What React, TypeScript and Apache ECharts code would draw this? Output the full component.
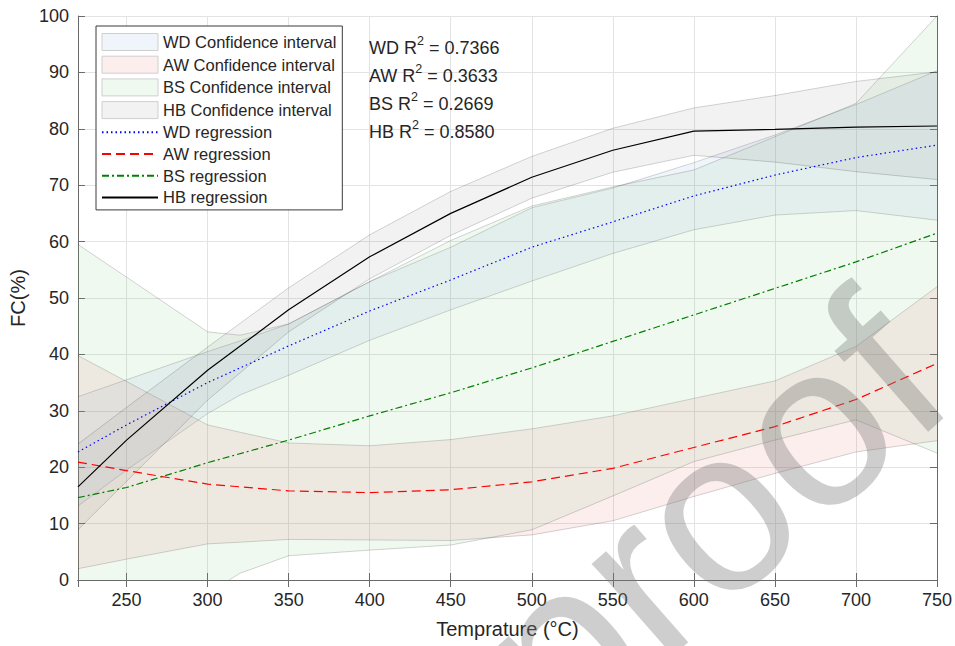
import React, { useEffect, useRef } from 'react';
import * as echarts from 'echarts';

// Regression curves (x in °C, FC in %)
const regX = [220, 250, 300, 350, 400, 450, 500, 550, 600, 650, 700, 750];
const wdRegression = [22.7, 27.5, 35.0, 41.5, 47.7, 53.2, 59.0, 63.5, 68.1, 71.8, 74.9, 77.1];
const awRegression = [20.9, 19.4, 17.0, 15.8, 15.5, 16.0, 17.4, 19.8, 23.5, 27.2, 32.0, 38.4];
const bsRegression = [14.6, 16.4, 20.8, 24.8, 29.1, 33.2, 37.6, 42.3, 47.0, 51.7, 56.4, 61.5];
const hbRegression = [16.5, 24.8, 37.2, 47.9, 57.3, 65.0, 71.4, 76.2, 79.6, 79.9, 80.3, 80.5];

// Confidence intervals
const bandX = [220, 250, 300, 320, 350, 400, 450, 500, 550, 600, 650, 700, 750];
const wdLower = [13.1, 19.5, 29.5, 32.8, 36.3, 42.5, 47.9, 53.0, 57.9, 62.1, 64.7, 65.5, 63.8];
const wdUpper = [32.5, 35.5, 40.5, 42.4, 45.4, 52.9, 59.0, 66.0, 69.5, 74.0, 78.9, 84.3, 90.3];
const awLower = [2.0, 3.7, 6.4, 6.7, 7.2, 7.1, 7.0, 8.0, 10.5, 14.8, 18.9, 22.7, 24.7];
const awUpper = [39.8, 35.2, 27.5, 26.2, 24.3, 23.8, 24.9, 26.8, 29.1, 32.2, 35.3, 41.4, 52.0];
const bsLower = [-30.3, -19.8, -2.4, 1.2, 4.3, 5.3, 6.2, 8.9, 14.9, 21.0, 24.8, 28.4, 22.5];
const bsUpper = [59.5, 53.7, 44.0, 43.4, 45.4, 52.9, 60.2, 66.3, 69.7, 72.7, 78.6, 84.5, 100.0];
const hbLower = [8.9, 17.5, 31.9, 36.7, 44.0, 53.4, 61.1, 67.7, 72.3, 75.3, 74.1, 72.4, 71.0];
const hbUpper = [24.1, 30.6, 41.3, 45.5, 51.8, 61.2, 68.9, 75.1, 80.1, 83.7, 85.9, 88.4, 90.1];

const r2Names = ['WD', 'AW', 'BS', 'HB'];
const r2Values = ['0.7366', '0.3633', '0.2669', '0.8580'];

const FONT = '"Liberation Sans", Arial, Helvetica, sans-serif';
const TEXT = '#262626';
const AXIS = '#6a6a6a';
const EDGE = 'rgba(0,0,0,0.17)';

const fills = {
  wd: 'rgba(105,145,215,0.10)',
  aw: 'rgba(235,85,85,0.10)',
  bs: 'rgba(105,195,105,0.10)',
  hb: 'rgba(125,125,125,0.10)',
};

function bandSeries(name: string, lo: number[], hi: number[], fill: string) {
  const data = bandX.map((x, i) => [x, lo[i], hi[i]]);
  return {
    name,
    type: 'custom',
    data,
    encode: { x: 0, y: [1, 2] },
    itemStyle: { color: fill },
    renderItem: (params: any, api: any) => {
      if (params.dataIndex !== 0) return { type: 'group', children: [] };
      const upper = data.map((d) => api.coord([d[0], d[2]]));
      const lower = data.map((d) => api.coord([d[0], d[1]]));
      const cs = params.coordSys;
      return {
        type: 'group',
        clipPath: { type: 'rect', shape: { x: cs.x, y: cs.y, width: cs.width, height: cs.height } },
        children: [
          { type: 'polygon', shape: { points: upper.concat(lower.slice().reverse()) }, style: { fill, stroke: 'none' } },
          { type: 'polyline', shape: { points: upper }, style: { fill: 'none', stroke: EDGE, lineWidth: 1 } },
          { type: 'polyline', shape: { points: lower }, style: { fill: 'none', stroke: EDGE, lineWidth: 1 } },
        ],
      };
    },
  };
}

function lineSeries(name: string, values: number[], color: string, type: any, width = 1.2) {
  return {
    name,
    type: 'line',
    data: regX.map((x, i) => [x, values[i]]),
    symbol: 'none',
    showSymbol: false,
    itemStyle: { color },
    lineStyle: { color, width, type },
  };
}

const noSymbol = { opacity: 0, borderWidth: 0 };

export default function App() {
  const ref = useRef<HTMLDivElement>(null);
  useEffect(() => {
    if (!ref.current) return;
    const chart = echarts.init(ref.current, undefined, { renderer: 'svg' });
    const xCommon = {
      type: 'value',
      min: 220,
      max: 750,
      splitNumber: 10,
    };
    const yCommon = { type: 'value', min: 0, max: 100, interval: 10 };
    const r2Text = r2Names
      .map((n, i) => `{m|${n} R}{s|2}{m| = ${r2Values[i]}}`)
      .join('\n');
    chart.setOption({
      animation: false,
      backgroundColor: '#ffffff',
      textStyle: { fontFamily: FONT },
      grid: { left: 77, right: 18, top: 16, bottom: 66, containLabel: false },
      xAxis: [
        {
          ...xCommon,
          position: 'bottom',
          name: 'Temprature (°C)',
          nameLocation: 'middle',
          nameGap: 39,
          nameTextStyle: { fontSize: 20, color: TEXT, fontFamily: FONT },
          axisLine: { show: true, lineStyle: { color: AXIS, width: 1 } },
          axisTick: { show: true, inside: true, length: 7, lineStyle: { color: AXIS } },
          axisLabel: {
            show: true,
            showMinLabel: false,
            margin: 11,
            fontSize: 18,
            color: TEXT,
            fontFamily: FONT,
            formatter: (v: number) => (v === 220 ? '' : String(v)),
          },
          splitLine: { show: true, lineStyle: { color: '#e3e3e3', width: 1 } },
        },
        {
          ...xCommon,
          position: 'top',
          axisLine: { show: true, lineStyle: { color: AXIS, width: 1 } },
          axisTick: { show: true, inside: true, length: 7, lineStyle: { color: AXIS } },
          axisLabel: { show: false },
          splitLine: { show: false },
        },
      ],
      yAxis: [
        {
          ...yCommon,
          position: 'left',
          name: 'FC(%)',
          nameLocation: 'middle',
          nameGap: 45,
          nameTextStyle: { fontSize: 20, color: TEXT, fontFamily: FONT },
          axisLine: { show: true, lineStyle: { color: AXIS, width: 1 } },
          axisTick: { show: true, inside: true, length: 7, lineStyle: { color: AXIS } },
          axisLabel: { margin: 9, fontSize: 18, color: TEXT, fontFamily: FONT },
          splitLine: { show: true, lineStyle: { color: '#e3e3e3', width: 1 } },
        },
        {
          ...yCommon,
          position: 'right',
          axisLine: { show: true, lineStyle: { color: AXIS, width: 1 } },
          axisTick: { show: true, inside: true, length: 7, lineStyle: { color: AXIS } },
          axisLabel: { show: false },
          splitLine: { show: false },
        },
      ],
      legend: {
        orient: 'vertical',
        left: 96,
        top: 26,
        itemWidth: 56,
        itemHeight: 17,
        itemGap: 4.7,
        padding: [7, 6, 4, 5],
        backgroundColor: '#ffffff',
        borderColor: '#3a3a3a',
        borderWidth: 1,
        borderRadius: 0,
        selectedMode: false,
        textStyle: { fontSize: 16.5, color: TEXT, fontFamily: FONT },
        data: [
          { name: 'WD Confidence interval', icon: 'rect', itemStyle: { color: fills.wd, borderColor: '#cfcfcf', borderWidth: 1 } },
          { name: 'AW Confidence interval', icon: 'rect', itemStyle: { color: fills.aw, borderColor: '#cfcfcf', borderWidth: 1 } },
          { name: 'BS Confidence interval', icon: 'rect', itemStyle: { color: fills.bs, borderColor: '#cfcfcf', borderWidth: 1 } },
          { name: 'HB Confidence interval', icon: 'rect', itemStyle: { color: fills.hb, borderColor: '#cfcfcf', borderWidth: 1 } },
          { name: 'WD regression', itemStyle: noSymbol },
          { name: 'AW regression', itemStyle: noSymbol },
          { name: 'BS regression', itemStyle: noSymbol },
          { name: 'HB regression', itemStyle: noSymbol },
        ],
      },
      graphic: [
        {
          type: 'text',
          left: 369,
          top: 34,
          z: 10,
          style: {
            text: r2Text,
            fill: TEXT,
            font: `18px ${FONT}`,
            rich: {
              m: { fontSize: 18, lineHeight: 28, fontFamily: FONT, fill: TEXT },
              s: { fontSize: 12.5, lineHeight: 14, verticalAlign: 'top', fontFamily: FONT, fill: TEXT },
            },
          },
        },
        {
          type: 'text',
          x: 587,
          y: 778,
          rotation: 0.72,
          z: 20,
          silent: true,
          style: {
            text: 'proof',
            fill: 'rgba(120,120,120,0.36)',
            font: `232px ${FONT}`,
            textAlign: 'left',
            textVerticalAlign: 'bottom',
          },
        },
      ],
      series: [
        bandSeries('WD Confidence interval', wdLower, wdUpper, fills.wd),
        bandSeries('AW Confidence interval', awLower, awUpper, fills.aw),
        bandSeries('BS Confidence interval', bsLower, bsUpper, fills.bs),
        bandSeries('HB Confidence interval', hbLower, hbUpper, fills.hb),
        lineSeries('WD regression', wdRegression, '#0000ff', [1.5, 3]),
        lineSeries('AW regression', awRegression, '#ff0000', [9, 5]),
        lineSeries('BS regression', bsRegression, '#007f00', [7, 3, 2, 3]),
        lineSeries('HB regression', hbRegression, '#000000', 'solid'),
      ],
    });
    return () => chart.dispose();
  }, []);
  return (
    <div
      ref={ref}
      style={{ position: 'fixed', left: 0, top: 0, width: 955, height: 646, background: '#fff' }}
    />
  );
}
